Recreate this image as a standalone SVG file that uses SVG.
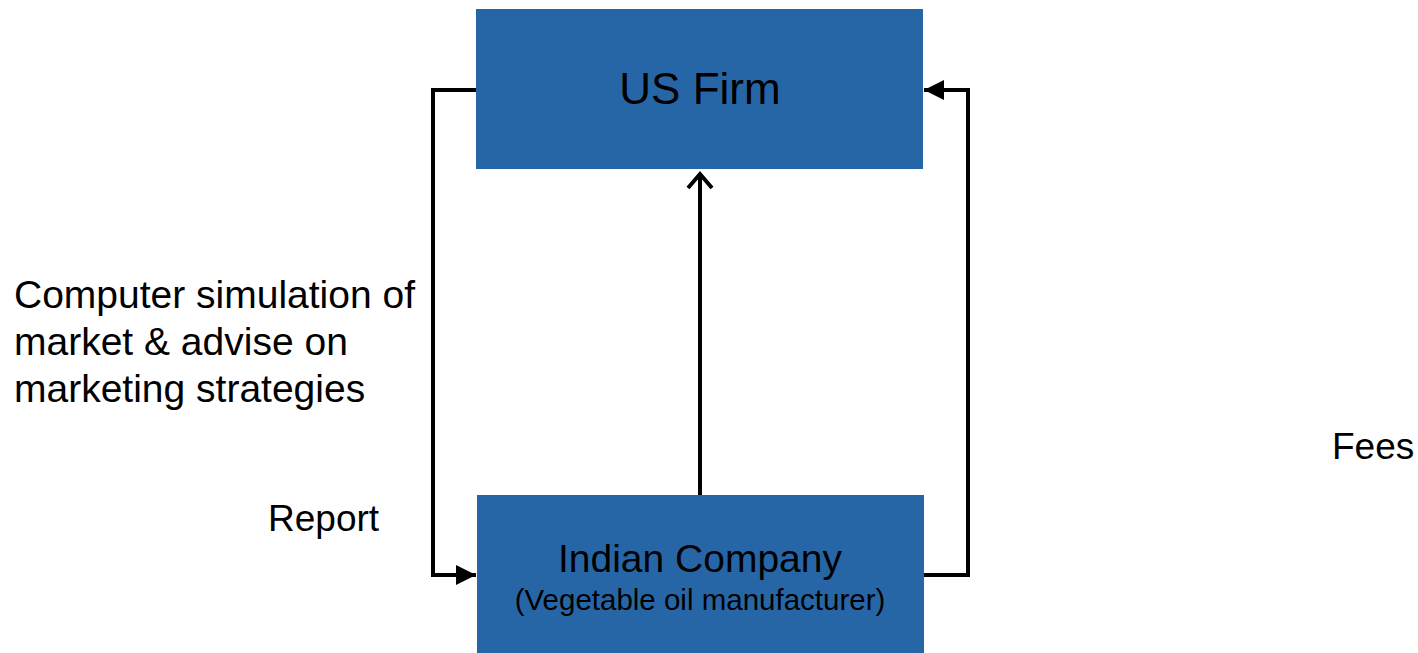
<svg xmlns="http://www.w3.org/2000/svg" width="1418" height="653" viewBox="0 0 1418 653">
<style>
.box{fill:#2766A6}
.t{font-family:"Liberation Sans",Arial,sans-serif;fill:#000}
.ln{fill:none;stroke:#000;stroke-width:4}
</style>
<defs>
<marker id="tri" viewBox="0 0 10 10" refX="10" refY="5" markerWidth="5" markerHeight="5" orient="auto" markerUnits="strokeWidth">
<path d="M0,0 L10,5 L0,10 z" fill="#000"/>
</marker>
</defs>
<rect width="1418" height="653" fill="#fff"/>
<g id="connectors">
<path class="ln" d="M476,90 H433 V575 H476" marker-end="url(#tri)"/>
<path class="ln" d="M924,575 H968 V90 H924" marker-end="url(#tri)"/>
<path class="ln" d="M700,495 V174"/>
<path class="ln" d="M688,188 L700,174 L712,188" stroke-linejoin="miter"/>
</g>
<g id="us-firm">
<rect class="box" x="476" y="9" width="447" height="160"/>
<text class="t" x="700" y="104" font-size="44" text-anchor="middle">US Firm</text>
</g>
<g id="indian-company">
<rect class="box" x="477" y="495" width="447" height="158"/>
<text class="t" x="700" y="572" font-size="39" text-anchor="middle">Indian Company</text>
<text class="t" x="700" y="610" font-size="29.5" text-anchor="middle">(Vegetable oil manufacturer)</text>
</g>
<g id="labels">
<text class="t" x="14" y="308" font-size="39">Computer simulation of</text>
<text class="t" x="14" y="355" font-size="39">market &amp; advise on</text>
<text class="t" x="14" y="402" font-size="39">marketing strategies</text>
<text class="t" x="268" y="531" font-size="37">Report</text>
<text class="t" x="1332" y="459" font-size="37">Fees</text>
</g>
</svg>
